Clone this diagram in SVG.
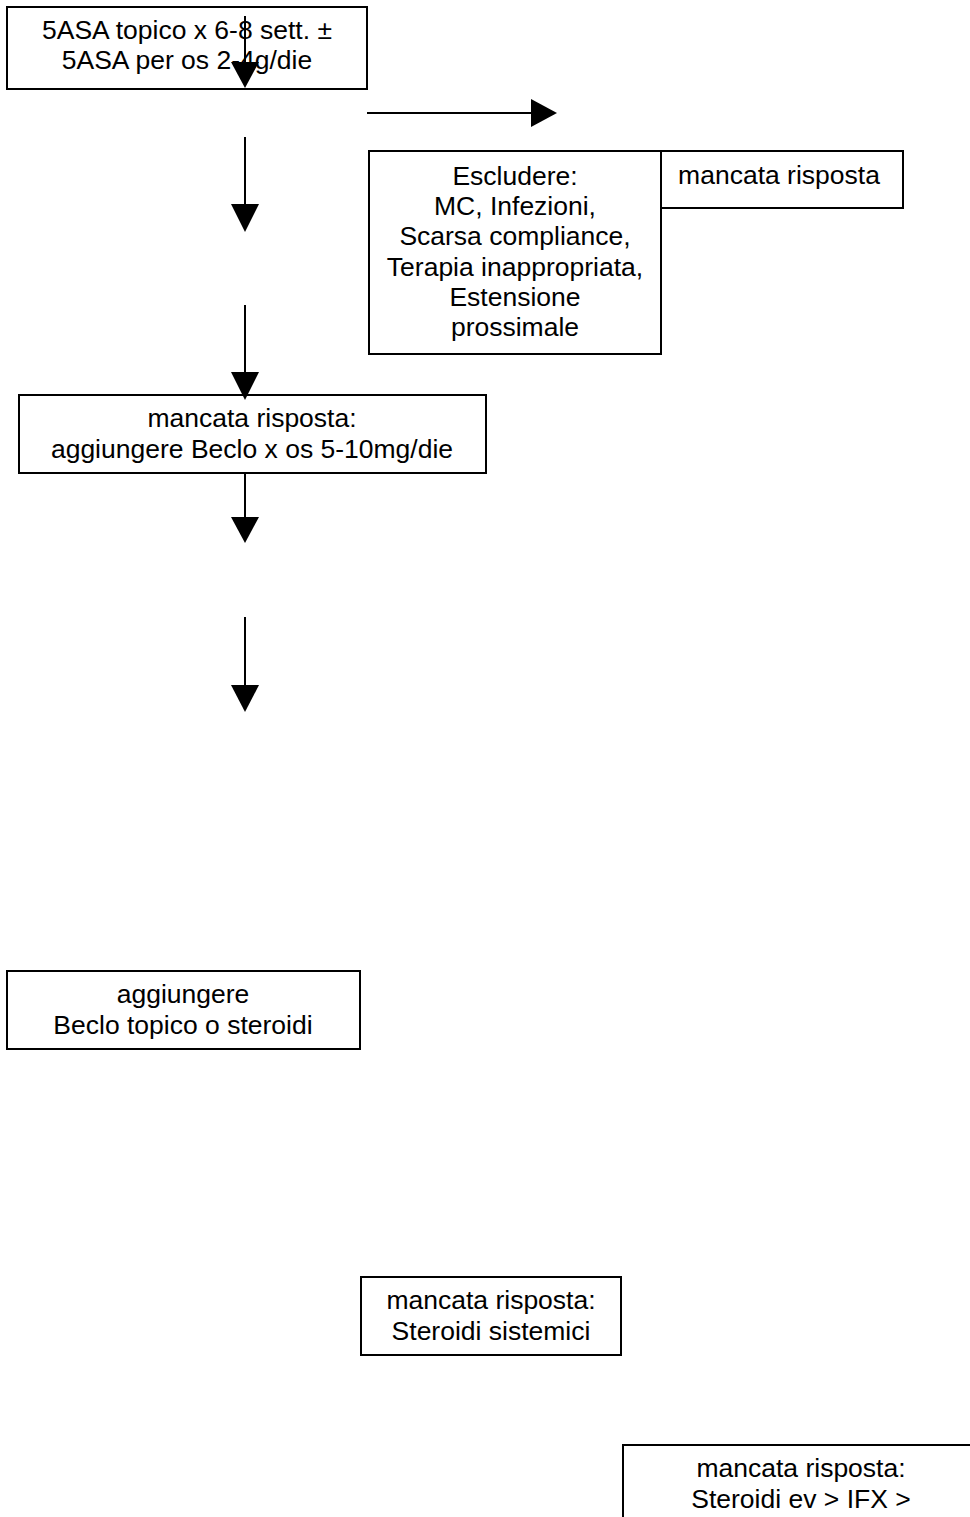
<svg xmlns="http://www.w3.org/2000/svg" width="970" height="1517" viewBox="0 0 970 1517">
<style>
rect.box{fill:#fff;stroke:#000;stroke-width:2}
text{font-family:"Liberation Sans",Arial,sans-serif;font-size:26.5px;fill:#000;text-anchor:middle}
line.c{stroke:#000;stroke-width:2}
polygon.h{fill:#000}
</style>
<rect width="970" height="1517" fill="#fff"/>
<g id="n1"><rect class="box" x="7" y="7" width="360" height="82"/><text x="187" y="39">5ASA topico x 6-8 sett. ±</text><text x="187" y="69">5ASA per os 2-4g/die</text></g>
<g id="n2"><rect class="box" x="369" y="151" width="292" height="203"/><text x="515" y="185">Escludere:</text><text x="515" y="215">MC, Infezioni,</text><text x="515" y="245">Scarsa compliance,</text><text x="515" y="276">Terapia inappropriata,</text><text x="515" y="306">Estensione</text><text x="515" y="336">prossimale</text></g>
<g id="n3"><rect class="box" x="661" y="151" width="242" height="57"/><text x="779" y="184">mancata risposta</text></g>
<g id="n4"><rect class="box" x="19" y="395" width="467" height="78"/><text x="252" y="427">mancata risposta:</text><text x="252" y="458">aggiungere Beclo x os 5-10mg/die</text></g>
<g id="n5"><rect class="box" x="7" y="971" width="353" height="78"/><text x="183" y="1003">aggiungere</text><text x="183" y="1034">Beclo topico o steroidi</text></g>
<g id="n6"><rect class="box" x="361" y="1277" width="260" height="78"/><text x="491" y="1309">mancata risposta:</text><text x="491" y="1340">Steroidi sistemici</text></g>
<g id="n7"><rect class="box" x="623" y="1445" width="360" height="90"/><text x="801" y="1477">mancata risposta:</text><text x="801" y="1508">Steroidi ev &gt; IFX &gt;</text></g>
<g id="connectors">
<line class="c" x1="245" y1="16" x2="245" y2="64"/><polygon class="h" points="231,62 259,62 245,88"/>
<line class="c" x1="367" y1="113" x2="533" y2="113"/><polygon class="h" points="531,99 531,127 557,113"/>
<line class="c" x1="245" y1="137" x2="245" y2="206"/><polygon class="h" points="231,204 259,204 245,232"/>
<line class="c" x1="245" y1="305" x2="245" y2="374"/><polygon class="h" points="231,372 259,372 245,400"/>
<line class="c" x1="245" y1="473" x2="245" y2="519"/><polygon class="h" points="231,517 259,517 245,543"/>
<line class="c" x1="245" y1="617" x2="245" y2="687"/><polygon class="h" points="231,685 259,685 245,712"/>
</g>
</svg>
